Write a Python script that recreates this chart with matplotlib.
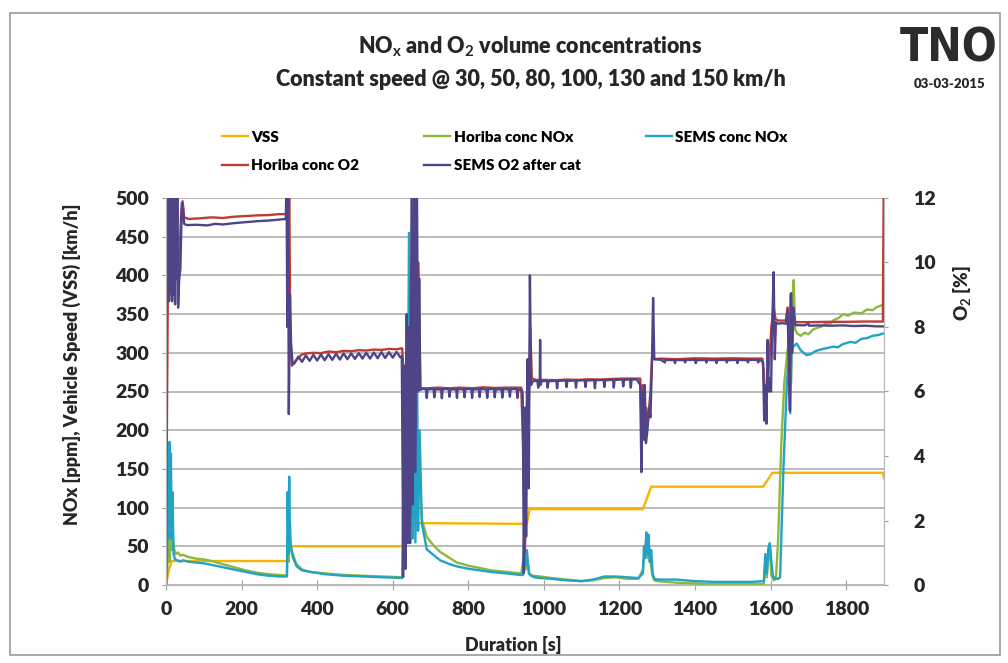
import numpy as np
import matplotlib
matplotlib.use("Agg")
import matplotlib.pyplot as plt
from matplotlib.patches import Rectangle

plt.rcParams['font.family'] = ['Lato', 'DejaVu Sans']
plt.rcParams['font.weight'] = 'bold'
plt.rcParams['mathtext.fontset'] = 'custom'
plt.rcParams['mathtext.rm'] = 'Lato:bold'
plt.rcParams['mathtext.it'] = 'Lato:bold'
plt.rcParams['mathtext.bf'] = 'Lato:bold'

# --- data ---
# vehicle speed [km/h]
vss_t = [0, 8, 15, 322, 324, 628, 640, 648, 955, 962, 1262, 1284, 1580, 1598, 1604, 1897, 1900]
vss_v = [0, 20, 31, 31, 50, 50, 60, 80, 79, 98, 98, 127, 127, 140, 145, 145, 138]

# Horiba NOx [ppm]
horiba_nox = [(0, 0), (3, 15), (6, 60), (9, 30), (12, 70), (15, 45), (18, 60), (22, 45), (26, 40),
              (32, 42), (38, 38), (45, 39), (60, 36), (80, 34), (100, 33), (120, 31), (150, 27),
              (180, 23), (210, 19), (240, 16), (270, 14), (300, 13), (320, 12), (322, 60), (325, 30),
              (328, 80), (331, 45), (336, 40), (345, 27), (360, 20), (380, 17), (420, 15), (470, 13),
              (520, 12), (570, 11), (625, 10), (629, 80), (633, 30), (637, 200), (641, 120), (645, 280),
              (649, 150), (653, 320), (657, 120), (661, 260), (665, 110), (670, 150), (677, 85),
              (690, 62), (710, 50), (725, 43), (750, 35), (770, 29), (800, 25), (830, 22), (860, 19),
              (900, 17), (940, 15), (948, 40), (952, 20), (956, 35), (962, 14), (970, 12), (990, 11),
              (1020, 9), (1060, 7), (1100, 5), (1130, 6), (1160, 9), (1190, 10), (1220, 8), (1250, 8),
              (1262, 20), (1266, 40), (1270, 55), (1274, 35), (1278, 50), (1282, 30), (1287, 12),
              (1292, 6), (1300, 5), (1350, 3), (1400, 2), (1450, 1), (1500, 1), (1550, 1), (1582, 1),
              (1586, 30), (1590, 10), (1594, 40), (1598, 45), (1602, 12), (1608, 6), (1614, 8),
              (1620, 60), (1628, 180), (1636, 260), (1644, 300), (1650, 320), (1654, 260), (1658, 360),
              (1661, 394), (1665, 330), (1670, 325), (1680, 322), (1690, 326), (1700, 324), (1712, 330),
              (1722, 332), (1735, 334), (1745, 338), (1755, 336), (1766, 342), (1780, 345), (1792, 350),
              (1805, 348), (1820, 352), (1840, 351), (1855, 356), (1870, 355), (1880, 359), (1898, 362)]

# SEMS NOx [ppm]
sems_nox = [(0, 0), (3, 40), (5, 150), (7, 60), (9, 185), (11, 80), (13, 170), (15, 60), (17, 120),
            (20, 40), (24, 33), (30, 32), (38, 30), (45, 32), (60, 30), (80, 29), (100, 28), (120, 26),
            (150, 23), (180, 20), (210, 17), (240, 14), (270, 12), (300, 11), (320, 11), (322, 120),
            (324, 40), (326, 140), (328, 60), (331, 50), (336, 35), (346, 24), (360, 19), (381, 17),
            (420, 14), (470, 12), (520, 11), (570, 10), (625, 9), (629, 150), (632, 40), (636, 300),
            (639, 100), (643, 455), (646, 90), (650, 360), (653, 60), (657, 350), (660, 55), (664, 330),
            (667, 70), (671, 200), (677, 80), (690, 46), (710, 38), (725, 32), (750, 27), (770, 24),
            (800, 21), (830, 19), (858, 17), (900, 15), (937, 13), (945, 13), (948, 60), (951, 25),
            (955, 45), (960, 15), (966, 12), (975, 10), (990, 9), (1020, 8), (1060, 6), (1100, 5),
            (1130, 7), (1160, 11), (1190, 11), (1220, 10), (1250, 9), (1262, 15), (1265, 50), (1268, 35),
            (1271, 68), (1274, 40), (1277, 65), (1280, 30), (1284, 45), (1288, 14), (1293, 8), (1300, 7),
            (1350, 7), (1400, 5), (1450, 4), (1500, 4), (1550, 4), (1582, 5), (1586, 40), (1590, 15),
            (1594, 48), (1598, 54), (1602, 30), (1606, 12), (1612, 8), (1620, 8), (1625, 10),
            (1634, 152), (1643, 261), (1648, 290), (1652, 222), (1655, 303), (1660, 308), (1669, 312),
            (1680, 303), (1695, 297), (1705, 298), (1718, 302), (1730, 304), (1748, 306), (1766, 308),
            (1778, 307), (1790, 311), (1810, 314), (1825, 313), (1840, 318), (1855, 319), (1870, 322),
            (1885, 323), (1898, 325)]

# Horiba O2 [%]
horiba_o2 = [(0, 0.5), (3, 6), (6, 11), (9, 9), (12, 12.6), (15, 9.5), (18, 12.6), (21, 9), (25, 11),
             (30, 9.5), (35, 10), (40, 11.5), (44, 11.9), (48, 11.4), (60, 11.35), (90, 11.37),
             (120, 11.4), (150, 11.38), (180, 11.42), (210, 11.44), (240, 11.46), (270, 11.47),
             (300, 11.5), (318, 11.5), (320, 12.6), (323, 9), (326, 12.6), (329, 7.5), (333, 6.8),
             (340, 6.9), (350, 7.05), (360, 7.15), (370, 7.18), (390, 7.2), (410, 7.19), (430, 7.24),
             (450, 7.22), (470, 7.26), (490, 7.25), (510, 7.28), (530, 7.27), (550, 7.3), (570, 7.29),
             (590, 7.32), (610, 7.31), (625, 7.34), (629, 6.5), (632, 1.0), (637, 7.0), (642, 4.0),
             (648, 9.5), (653, 5.0), (658, 12.0), (663, 6.5), (668, 10.0), (673, 6.1), (690, 6.1),
             (720, 6.12), (750, 6.1), (780, 6.12), (810, 6.1), (840, 6.13), (870, 6.11), (900, 6.12),
             (940, 6.12), (946, 4.0), (950, 1.0), (955, 6.0), (960, 5.5), (964, 8.0), (968, 6.4),
             (980, 6.36), (1000, 6.36), (1030, 6.35), (1060, 6.37), (1090, 6.36), (1120, 6.38),
             (1150, 6.37), (1180, 6.39), (1210, 6.4), (1240, 6.4), (1255, 6.4), (1258, 5.0), (1262, 6.2),
             (1266, 4.8), (1270, 5.5), (1275, 5.0), (1282, 6.0), (1288, 7.5), (1292, 7.0), (1310, 7.02),
             (1350, 7.0), (1400, 7.03), (1450, 7.02), (1500, 7.03), (1550, 7.02), (1578, 7.02),
             (1582, 6.6), (1585, 5.2), (1590, 6.2), (1596, 6.9), (1602, 8.0), (1608, 8.6), (1613, 8.25),
             (1620, 8.2), (1640, 8.2), (1645, 8.6), (1649, 7.0), (1653, 9.0), (1657, 7.5), (1661, 8.4),
             (1665, 8.15), (1700, 8.15), (1750, 8.16), (1800, 8.16), (1850, 8.17), (1897, 8.17),
             (1899, 12.0)]

# SEMS O2 after cat [%]
sems_o2 = [(0, 0), (2, 12.6), (4, 9), (6, 12.6), (8, 8.8), (10, 12.6), (12, 9.2), (14, 12.6), (16, 8.8),
           (18, 12.6), (20, 9.0), (22, 12.6), (24, 8.7), (26, 12.5), (28, 9.5), (30, 12.6), (32, 8.6),
           (35, 9.5), (38, 9.8), (42, 11.85), (45, 11.7), (48, 11.2), (55, 11.16), (80, 11.17),
           (110, 11.15), (130, 11.2), (150, 11.18), (180, 11.22), (210, 11.25), (240, 11.28),
           (270, 11.3), (300, 11.33), (317, 11.35), (319, 12.6), (321, 8.0), (323, 12.6), (325, 5.3),
           (328, 9.0), (331, 7.5), (335, 6.85),
           (340, 6.88), (350, 7.08), (360, 6.92), (370, 7.12), (380, 6.95), (390, 7.14), (400, 6.96),
           (410, 7.15), (420, 6.97), (430, 7.16), (440, 6.98), (450, 7.17), (460, 6.99), (470, 7.18),
           (480, 7.00), (490, 7.18), (500, 7.01), (510, 7.19), (520, 7.02), (530, 7.2), (540, 7.02),
           (550, 7.21), (560, 7.03), (570, 7.22), (580, 7.04), (590, 7.22), (600, 7.05), (610, 7.23),
           (620, 7.06), (624, 7.1), (628, 0.25), (631, 6.8), (634, 0.5), (637, 8.4), (640, 1.3),
           (643, 8.0), (646, 1.3), (650, 12.6), (653, 2.5), (657, 12.6), (660, 3.5), (664, 12.6),
           (667, 6.0), (670, 9.5), (673, 6.05),
           (678, 6.08), (688, 6.07), (690, 5.8), (692, 6.06), (708, 6.08), (710, 5.82), (712, 6.07),
           (728, 6.06), (730, 5.79), (732, 6.07), (748, 6.08), (750, 5.84), (752, 6.06), (768, 6.07),
           (770, 5.8), (772, 6.08), (788, 6.06), (790, 5.82), (792, 6.07), (808, 6.08), (810, 5.8),
           (812, 6.06), (828, 6.07), (830, 5.83), (832, 6.08), (848, 6.06), (850, 5.8), (852, 6.07),
           (868, 6.08), (870, 5.82), (872, 6.06), (888, 6.07), (890, 5.81), (892, 6.08), (908, 6.06),
           (910, 5.84), (912, 6.07), (928, 6.08), (930, 5.8), (932, 6.06), (942, 6.05),
           (944, 5.9), (947, 0.37), (950, 5.5), (953, 1.5), (957, 7.0), (960, 3.0), (963, 9.6),
           (966, 6.2), (970, 6.3), (975, 6.33), (983, 6.32), (985, 6.12), (987, 6.3), (989, 6.32),
           (990, 7.6), (991, 6.2), (994, 6.32), (1008, 6.33), (1010, 6.12), (1012, 6.32), (1033, 6.33),
           (1035, 6.1), (1037, 6.33), (1058, 6.34), (1060, 6.14), (1062, 6.33), (1083, 6.34),
           (1085, 6.12), (1087, 6.34), (1108, 6.35), (1110, 6.14), (1112, 6.34), (1133, 6.35),
           (1135, 6.1), (1137, 6.35), (1158, 6.36), (1160, 6.14), (1162, 6.35), (1183, 6.36),
           (1185, 6.12), (1187, 6.36), (1208, 6.37), (1210, 6.16), (1212, 6.36), (1228, 6.38),
           (1230, 6.12), (1232, 6.37), (1245, 6.38), (1250, 6.3),
           (1255, 6.2), (1258, 3.5), (1261, 6.0), (1264, 4.5), (1267, 6.2), (1270, 4.4), (1274, 4.8),
           (1278, 5.5), (1282, 5.2), (1286, 6.9), (1289, 8.9), (1292, 7.0),
           (1295, 7.0), (1310, 6.98), (1320, 6.9), (1322, 6.98), (1345, 6.97), (1347, 6.88),
           (1349, 6.98), (1372, 6.97), (1374, 6.9), (1376, 6.98), (1400, 6.98), (1402, 6.88),
           (1404, 6.97), (1428, 6.98), (1430, 6.9), (1432, 6.98), (1455, 6.97), (1457, 6.88),
           (1459, 6.98), (1482, 6.98), (1484, 6.9), (1486, 6.97), (1510, 6.98), (1512, 6.88),
           (1514, 6.98), (1538, 6.97), (1540, 6.9), (1542, 6.98), (1565, 6.98), (1567, 6.9),
           (1569, 6.97), (1578, 6.95),
           (1580, 6.9), (1583, 5.1), (1586, 6.2), (1589, 5.0), (1592, 7.6), (1595, 6.0), (1598, 6.4),
           (1601, 6.0), (1604, 8.0), (1608, 9.7), (1611, 7.0), (1614, 8.15), (1620, 8.1), (1630, 8.12),
           (1640, 8.1), (1645, 8.5), (1648, 6.8), (1651, 5.4), (1654, 9.05), (1657, 7.2), (1660, 8.6),
           (1665, 8.06), (1690, 8.05), (1700, 8.1), (1702, 8.04), (1730, 8.05), (1760, 8.04),
           (1790, 8.05), (1820, 8.03), (1850, 8.04), (1880, 8.02), (1898, 8.02)]

x_ticks = [0, 200, 400, 600, 800, 1000, 1200, 1400, 1600, 1800]
left_ticks = [0, 50, 100, 150, 200, 250, 300, 350, 400, 450, 500]
right_ticks = [0, 2, 4, 6, 8, 10, 12]

c_vss = '#F6B400'
c_hnox = '#8DB83C'
c_snox = '#21A3C6'
c_ho2 = '#BE3A34'
c_so2 = '#4E4487'
c_txt = '#262626'

fig = plt.figure(figsize=(10.08, 6.63), dpi=100)
ax = fig.add_axes([166/1008, 78/663, 718/1008, 387/663])
ax2 = ax.twinx()

lw = 1.7
l_vss, = ax.plot(vss_t, vss_v, color=c_vss, lw=lw, label='VSS')
hn = np.array(horiba_nox)
l_hnox, = ax.plot(hn[:, 0], hn[:, 1], color=c_hnox, lw=lw, label='Horiba conc NOx')
sn = np.array(sems_nox)
l_snox, = ax.plot(sn[:, 0], sn[:, 1], color=c_snox, lw=lw, label='SEMS conc NOx')
ho = np.array(horiba_o2)
l_ho2, = ax2.plot(ho[:, 0], ho[:, 1], color=c_ho2, lw=lw, label='Horiba conc O2')
so = np.array(sems_o2)
l_so2, = ax2.plot(so[:, 0], so[:, 1], color=c_so2, lw=lw, label='SEMS O2 after cat')

ax.set_xlim(0, 1900)
ax.set_ylim(0, 500)
ax2.set_ylim(0, 12)
ax.set_xticks(x_ticks)
ax.set_yticks(left_ticks)
ax2.set_yticks(right_ticks)
ax.yaxis.grid(True, color='#A8A8A8', lw=1.1)
ax.set_axisbelow(True)

for a in (ax, ax2):
    a.spines['top'].set_visible(False)
    for s in ('left', 'right', 'bottom'):
        a.spines[s].set_color('#B8B8B8')
ax.tick_params(axis='x', direction='inout', length=7, color='#A0A0A0', labelsize=14, pad=8)
ax.tick_params(axis='y', length=3, color='#A0A0A0', labelsize=14, pad=9)
ax2.tick_params(axis='y', length=3, color='#A0A0A0', labelsize=14, pad=18)
for lab in ax.get_xticklabels() + ax.get_yticklabels() + ax2.get_yticklabels():
    lab.set_fontweight('heavy')
    lab.set_color(c_txt)

# titles and labels
fig.text(530/1008, 1 - 47/663, 'NO$_\\mathrm{x}$ and O$_\\mathrm{2}$ volume concentrations',
         ha='center', va='center', fontsize=15.5, fontweight='heavy', color=c_txt)
fig.text(531/1008, 1 - 80/663, 'Constant speed @ 30, 50, 80, 100, 130 and 150 km/h',
         ha='center', va='center', fontsize=15.5, fontweight='heavy', color=c_txt)
fig.text(72/1008, 1 - 364/663, 'NOx [ppm], Vehicle Speed (VSS) [km/h]', rotation=90,
         ha='center', va='center', fontsize=13, fontweight='heavy', color=c_txt)
fig.text(962/1008, 1 - 293/663, 'O$_\\mathrm{2}$ [%]', rotation=90,
         ha='center', va='center', fontsize=13.5, fontweight='heavy', color=c_txt)
fig.text(513/1008, 1 - 645/663, 'Duration [s]',
         ha='center', va='center', fontsize=13, fontweight='heavy', color=c_txt)

# TNO logo and date
fig.text(949/1008, 1 - 49/663, 'TNO', ha='center', va='center', fontsize=33,
         fontweight='bold', fontstretch='condensed', color='#2b2b2b', family='DejaVu Sans')
fig.text(950/1008, 1 - 84/663, '03-03-2015', ha='center', va='center', fontsize=9.5,
         fontweight='heavy', color=c_txt)

fig.legend(handles=[l_vss, l_ho2, l_hnox, l_so2, l_snox], loc='upper left',
           bbox_to_anchor=(208/1008, 1 - 117/663), ncol=3, frameon=False,
           handlelength=1.7, handletextpad=0.2, columnspacing=4.3, labelspacing=1.0,
           prop={'weight': 'heavy', 'size': 11})

# scanned page border
fig.add_artist(Rectangle((10/1008, 8/663), 990/1008, 642/663, transform=fig.transFigure,
                         fill=False, ec='#9a9a9a', lw=1.2))

fig.savefig('out.png', dpi=100)
